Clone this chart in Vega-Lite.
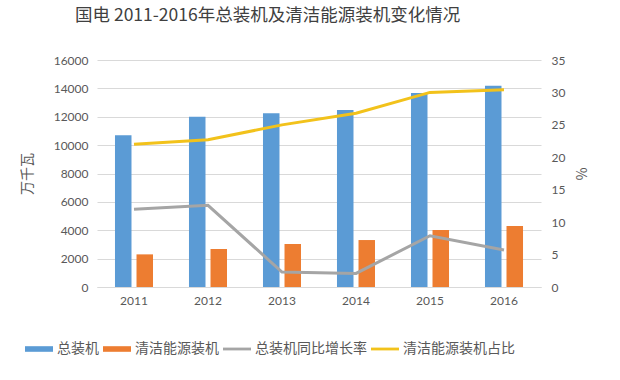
{
  "$schema": "https://vega.github.io/schema/vega-lite/v6.json",
  "autosize": "none",
  "width": 444,
  "height": 227,
  "padding": {"left": 97, "top": 60, "right": 79, "bottom": 93},
  "background": "white",
  "title": {
    "text": "国电 2011-2016年总装机及清洁能源装机变化情况",
    "anchor": "start",
    "frame": "group",
    "dx": -22,
    "offset": 30,
    "font": "Noto Sans CJK SC",
    "fontSize": 17.5,
    "fontWeight": "normal",
    "color": "#404040"
  },
  "datasets": {
    "bars": [
      {"year": "2011", "series": "总装机", "value": 10700},
      {"year": "2011", "series": "清洁能源装机", "value": 2300},
      {"year": "2012", "series": "总装机", "value": 12000},
      {"year": "2012", "series": "清洁能源装机", "value": 2680},
      {"year": "2013", "series": "总装机", "value": 12240},
      {"year": "2013", "series": "清洁能源装机", "value": 3030},
      {"year": "2014", "series": "总装机", "value": 12470},
      {"year": "2014", "series": "清洁能源装机", "value": 3310},
      {"year": "2015", "series": "总装机", "value": 13670},
      {"year": "2015", "series": "清洁能源装机", "value": 4020},
      {"year": "2016", "series": "总装机", "value": 14190},
      {"year": "2016", "series": "清洁能源装机", "value": 4300}
    ],
    "lines": [
      {"year": "2011", "series": "总装机同比增长率", "pct": 12.0},
      {"year": "2012", "series": "总装机同比增长率", "pct": 12.6},
      {"year": "2013", "series": "总装机同比增长率", "pct": 2.3},
      {"year": "2014", "series": "总装机同比增长率", "pct": 2.1},
      {"year": "2015", "series": "总装机同比增长率", "pct": 7.9},
      {"year": "2016", "series": "总装机同比增长率", "pct": 5.7},
      {"year": "2011", "series": "清洁能源装机占比", "pct": 22.0},
      {"year": "2012", "series": "清洁能源装机占比", "pct": 22.7},
      {"year": "2013", "series": "清洁能源装机占比", "pct": 25.0},
      {"year": "2014", "series": "清洁能源装机占比", "pct": 26.8},
      {"year": "2015", "series": "清洁能源装机占比", "pct": 30.0},
      {"year": "2016", "series": "清洁能源装机占比", "pct": 30.4}
    ]
  },
  "config": {
    "view": {"stroke": null},
    "axis": {
      "labelFont": "Lato",
      "labelFontSize": 12,
      "labelColor": "#595959",
      "titleFont": "Noto Sans CJK SC",
      "titleFontSize": 14,
      "titleFontWeight": "normal",
      "titleColor": "#595959",
      "ticks": false,
      "domain": false,
      "gridColor": "#D9D9D9",
      "gridWidth": 1
    }
  },
  "encoding": {
    "x": {
      "field": "year",
      "type": "nominal",
      "scale": {"paddingInner": 0.486, "paddingOuter": 0.243},
      "axis": {"title": null, "labelAngle": 0, "labelPadding": 8, "grid": false, "domain": true, "domainColor": "#D9D9D9"}
    }
  },
  "layer": [
    {
      "data": {"name": "bars"},
      "mark": {"type": "bar"},
      "encoding": {
        "xOffset": {"field": "series", "type": "nominal", "scale": {"domain": ["总装机", "清洁能源装机"], "paddingInner": 0.233}},
        "y": {
          "field": "value",
          "type": "quantitative",
          "scale": {"domain": [0, 16000], "nice": false},
          "axis": {"title": "万千瓦", "format": "d", "values": [0, 2000, 4000, 6000, 8000, 10000, 12000, 14000, 16000], "labelPadding": 9, "titlePadding": 19}
        },
        "color": {
          "field": "series",
          "type": "nominal",
          "scale": {
            "domain": ["总装机", "清洁能源装机", "总装机同比增长率", "清洁能源装机占比"],
            "range": ["#5B9BD5", "#ED7D31", "#A5A5A5", "#F2C21B"]
          },
          "legend": {
            "title": null,
            "orient": "none",
            "legendX": -72,
            "legendY": 275,
            "direction": "horizontal",
            "columns": 4,
            "symbolType": "M-1,-0.2h2v0.4h-2Z",
            "symbolSize": 784,
            "labelFont": "Noto Sans CJK SC",
            "labelFontSize": 14,
            "labelColor": "#595959",
            "labelOffset": 4,
            "columnPadding": 4,
            "labelLimit": 300,
            "encode": {
              "symbols": {
                "update": {
                  "shape": {"signal": "(datum.value == '总装机' || datum.value == '清洁能源装机') ? 'M-1,-0.2h2v0.4h-2Z' : 'M-1,-0.1h2v0.2h-2Z'"},
                  "fill": {"scale": "color", "field": "value"},
                  "stroke": {"value": "transparent"},
                  "strokeWidth": {"value": 0},
                  "opacity": {"value": 1},
                  "fillOpacity": {"value": 1}
                }
              }
            }
          }
        }
      }
    },
    {
      "data": {"name": "lines"},
      "mark": {"type": "line", "strokeWidth": 3},
      "encoding": {
        "y": {
          "field": "pct",
          "type": "quantitative",
          "scale": {"domain": [0, 35], "nice": false},
          "axis": {"title": "%", "orient": "right", "grid": false, "values": [0, 5, 10, 15, 20, 25, 30, 35], "labelPadding": 10, "titlePadding": 8}
        },
        "color": {"field": "series", "type": "nominal"}
      }
    }
  ],
  "resolve": {"scale": {"y": "independent"}}
}
